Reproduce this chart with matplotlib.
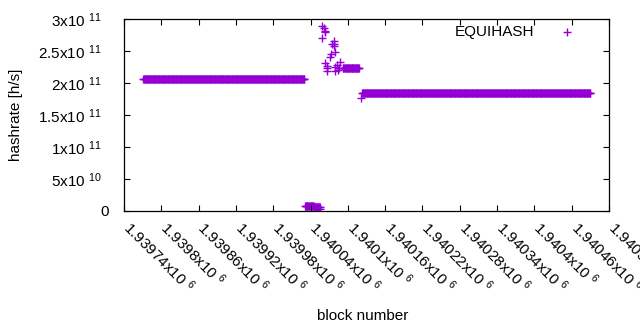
import numpy as np
import matplotlib
matplotlib.use('Agg')
import matplotlib.pyplot as plt
from matplotlib.transforms import ScaledTranslation

plt.rcParams['font.family'] = ['Liberation Sans', 'DejaVu Sans']
plt.rcParams['mathtext.fontset'] = 'custom'
plt.rcParams['mathtext.rm'] = 'Liberation Sans'
plt.rcParams['mathtext.it'] = 'Liberation Sans:italic'
plt.rcParams['mathtext.bf'] = 'Liberation Sans:bold'
plt.rcParams['path.simplify'] = False

# ---- data: runs of (nearly) constant hashrate, one point per block ----
run_start = [1939771, 1940031, 1940039, 1940046, 1940092, 1940123]
run_end = [1940030, 1940038, 1940045, 1940055, 1940118, 1940490]
run_value = [2.07e11, 8.2e9, 7.5e9, 5.8e9, 2.23e11, 1.84e11]

# ---- individual points in the transition ----
spike_blocks = [1940056, 1940058, 1940059, 1940062, 1940063, 1940063, 1940064,
                1940066, 1940066, 1940067, 1940071, 1940073, 1940074, 1940077,
                1940078, 1940078, 1940079, 1940080, 1940080, 1940083, 1940084,
                1940086, 1940087, 1940121]
spike_values = [2.5e9, 2.89e11, 2.70e11, 2.86e11, 2.82e11, 2.80e11, 2.31e11,
                2.23e11, 2.19e11, 2.27e11, 2.41e11, 2.46e11, 2.61e11, 2.66e11,
                2.61e11, 2.58e11, 2.49e11, 2.25e11, 2.19e11, 2.28e11, 2.20e11,
                2.23e11, 2.33e11, 1.76e11]

xtick_values = [1939740, 1939800, 1939860, 1939920, 1939980, 1940040, 1940100,
                1940160, 1940220, 1940280, 1940340, 1940400, 1940460, 1940520]
xtick_text = ['1.93974', '1.9398', '1.93986', '1.93992', '1.93998', '1.94004',
              '1.9401', '1.94016', '1.94022', '1.94028', '1.94034', '1.9404',
              '1.94046', '1.94052']
ytick_values = [0, 5e10, 1e11, 1.5e11, 2e11, 2.5e11, 3e11]
ytick_text = ['0', '5x10 $^{10}$', '1x10 $^{11}$', '1.5x10 $^{11}$',
              '2x10 $^{11}$', '2.5x10 $^{11}$', '3x10 $^{11}$']

blocks = []
values = []
for s, e, v in zip(run_start, run_end, run_value):
    b = np.arange(s, e + 1)
    blocks.append(b)
    values.append(np.full(b.shape, v))
blocks.append(np.array(spike_blocks))
values.append(np.array(spike_values))
all_b = np.concatenate(blocks)
all_v = np.concatenate(values)

color = '#9400D3'
fig = plt.figure(figsize=(6.4, 3.3), dpi=100)
ax = fig.add_axes([124 / 640, 1 - 211 / 330, 485 / 640, 192 / 330])
ax.scatter(all_b, all_v, marker='+', s=26, linewidths=1.0,
           color=color, label='EQUIHASH')

ax.set_xlim(1939740, 1940520)
ax.set_ylim(0, 3e11)
ax.set_xticks(xtick_values)
ax.set_xticklabels([t + 'x10 $^{6}$' for t in xtick_text], rotation=-45,
                   ha='left', va='top', rotation_mode='anchor')
ax.set_yticks(ytick_values)
ax.set_yticklabels(ytick_text)
ax.tick_params(direction='in', length=4, width=0.8, top=True, right=True,
               labelsize=11, colors='black')
ax.tick_params(axis='x', pad=7)
ax.tick_params(axis='y', pad=16)
for sp in ax.spines.values():
    sp.set_linewidth(0.9)

shift_x = ScaledTranslation(9 / 100, 3 / 100, fig.dpi_scale_trans)
for lab in ax.get_xticklabels():
    lab.set_transform(lab.get_transform() + shift_x)
shift_zero = ScaledTranslation(7 / 100, 0, fig.dpi_scale_trans)
zero_lab = ax.get_yticklabels()[0]
zero_lab.set_transform(zero_lab.get_transform() + shift_zero)

ax.set_xlabel('block number', fontsize=11)
ax.xaxis.set_label_coords((363 - 124) / 485, (211 - 316) / 192)
ax.xaxis.label.set_va('center')
ax.set_ylabel('hashrate [h/s]', fontsize=11)
ax.yaxis.set_label_coords((16 - 124) / 485, 0.5)
ax.yaxis.label.set_va('center')

ax.legend(loc='center right', bbox_to_anchor=(575 / 640, 1 - 32 / 330),
          bbox_transform=fig.transFigure, frameon=False, markerfirst=False,
          handlelength=1.0, handletextpad=1.7, borderpad=0, borderaxespad=0,
          fontsize=11, scatterpoints=1)

fig.savefig('out.png', dpi=100)
